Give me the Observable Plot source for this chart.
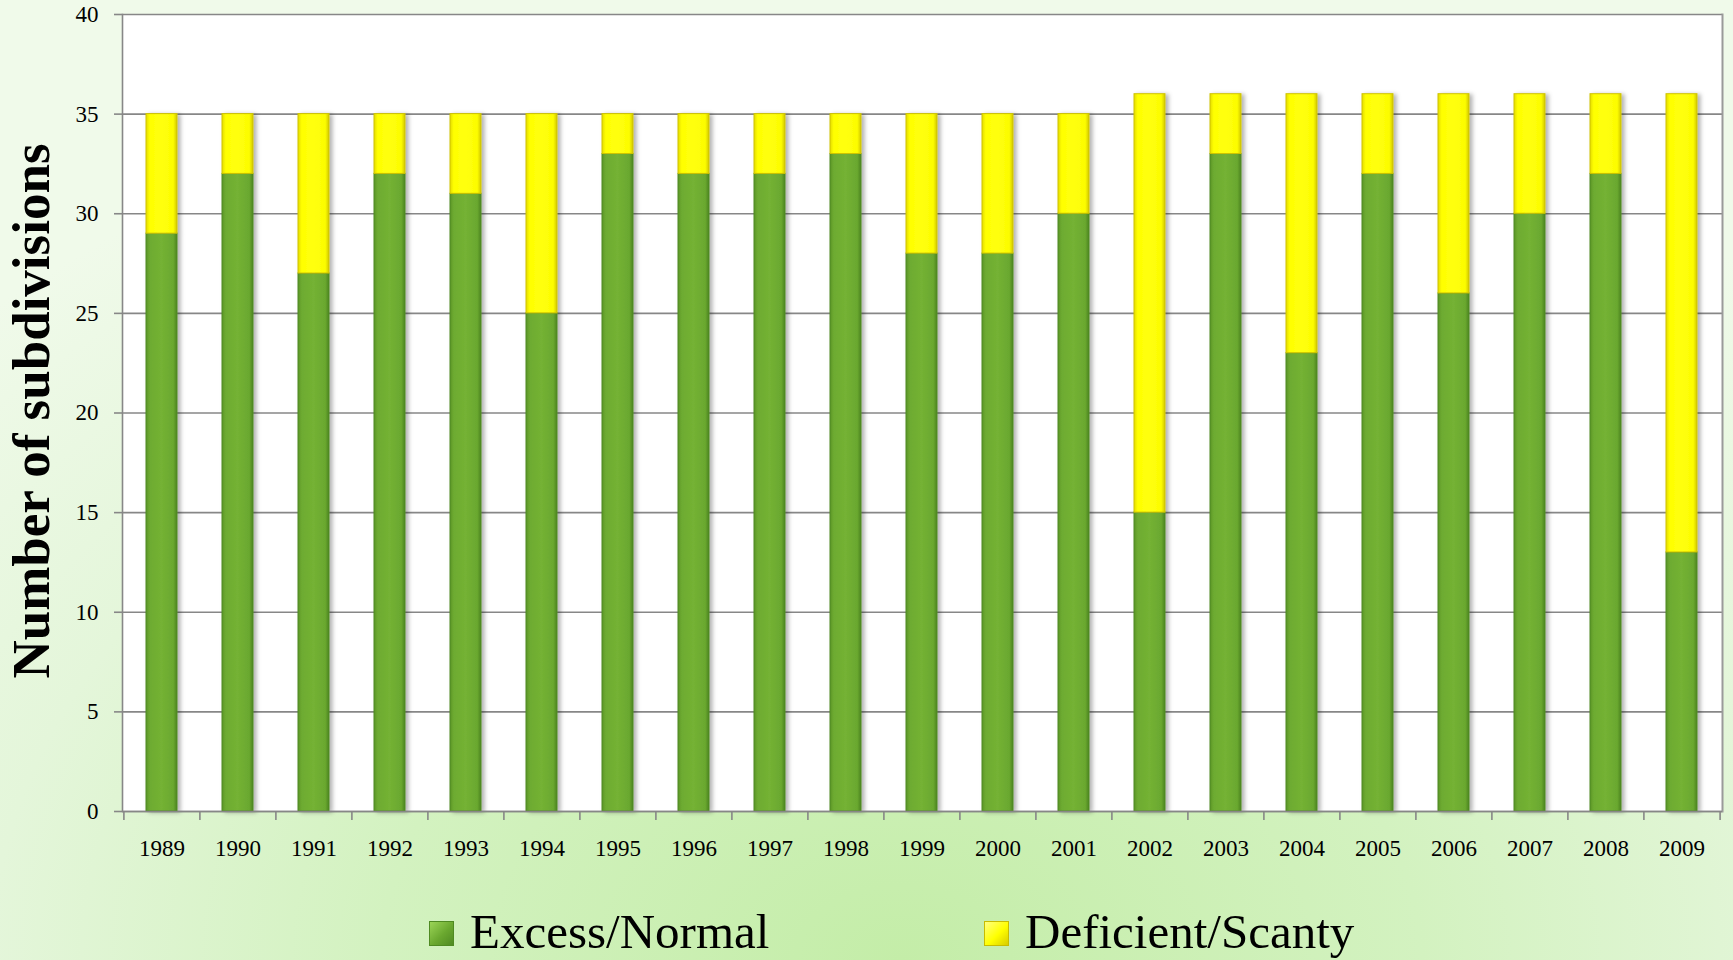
<!DOCTYPE html>
<html>
<head>
<meta charset="utf-8">
<script src="https://cdn.jsdelivr.net/npm/d3@7"></script>
<script src="https://cdn.jsdelivr.net/npm/@observablehq/plot@0.6"></script>
<style>
  html, body { margin: 0; padding: 0; }
  body {
    width: 1733px; height: 960px; overflow: hidden; position: relative;
    font-family: "Liberation Serif", "DejaVu Serif", serif;
    background: radial-gradient(ellipse 75% 95% at 52% 100%, #c4eda8 0%, #d3f2c0 40%, #e4f6da 70%, #f0faea 100%);
  }
  #chart { position: absolute; left: 0; top: 0; }
  #ytitle {
    position: absolute; left: 31px; top: 411px;
    transform: translate(-50%, -50%) rotate(-90deg);
    font-size: 53px; font-weight: bold; white-space: nowrap; color: #000;
  }
  .leg { position: absolute; top: 907px; font-size: 49px; line-height: 49px; color: #000; white-space: nowrap; }
  .sw { position: absolute; width: 25px; height: 25px; box-sizing: border-box; }
</style>
</head>
<body>
<div id="chart"></div>
<div id="ytitle">Number of subdivisions</div>
<div id="legend"></div>
<script>
const years = ["1989","1990","1991","1992","1993","1994","1995","1996","1997","1998","1999",
               "2000","2001","2002","2003","2004","2005","2006","2007","2008","2009"];
const excessNormal = [29,32,27,32,31,25,33,32,32,33,28,28,30,15,33,23,32,26,30,32,13];
const deficientScanty = [6,3,8,3,4,10,2,3,3,2,7,7,5,21,3,13,4,10,6,4,23];
const seriesNames = ["Excess/Normal","Deficient/Scanty"];
const yTicks = [0,5,10,15,20,25,30,35,40];

const rows = [];
years.forEach((y, i) => {
  rows.push({year: y, series: seriesNames[0], value: excessNormal[i]});
  rows.push({year: y, series: seriesNames[1], value: deficientScanty[i]});
});

const gray = "#878787";
const chart = Plot.plot({
  width: 1733, height: 880,
  marginLeft: 122, marginRight: 11, marginTop: 14, marginBottom: 69,
  style: {background: "transparent", fontFamily: "Liberation Serif, serif", color: "#000"},
  x: {domain: years, paddingInner: 0.59, paddingOuter: 0.295, label: null},
  y: {domain: [0, 40], label: null},
  color: {domain: seriesNames, range: ["url(#gGreen)", "url(#gYellow)"]},
  marks: [
    Plot.frame({fill: "white", stroke: null}),
    Plot.gridY(yTicks, {stroke: gray, strokeOpacity: 1, strokeWidth: 1.6}),
    Plot.frame({anchor: "right", stroke: "#9a9a9a", strokeWidth: 2}),
    Plot.barY(rows, Plot.stackY({x: "year", y: "value", fill: "series",
      stroke: d => d.series === seriesNames[0] ? "#4f8a22" : "#cfc300", strokeWidth: 1})),
    Plot.axisY(yTicks, {tickSize: 8, tickPadding: 16, fontSize: 23, label: null, stroke: gray, strokeWidth: 1.6}),
    Plot.frame({anchor: "left", stroke: gray, strokeWidth: 1.6}),
    Plot.ruleY([0], {stroke: gray, strokeWidth: 1.6}),
    Plot.axisX({tickSize: 9, dx: -38.1, text: null, stroke: gray, strokeWidth: 1.6}),
    Plot.axisX(["2009"], {tickSize: 9, dx: 38.1, text: null, stroke: gray, strokeWidth: 1.6}),
    Plot.axisX({tickSize: 0, tickPadding: 28, fontSize: 23, label: null})
  ]
});

// gradients & shadow definitions
const svg = d3.select(chart);
const defs = svg.insert("defs", ":first-child");
function hgrad(id, stops) {
  const g = defs.append("linearGradient").attr("id", id).attr("x1", "0").attr("x2", "1").attr("y1", "0").attr("y2", "0");
  stops.forEach(([o, c]) => g.append("stop").attr("offset", o).attr("stop-color", c));
}
hgrad("gGreen", [[0, "#5b9528"], [0.12, "#6dab30"], [0.5, "#74b234"], [0.88, "#6aa82f"], [1, "#4d8420"]]);
hgrad("gYellow", [[0, "#e4dc00"], [0.12, "#ffff00"], [0.5, "#ffff10"], [0.88, "#fcfc00"], [1, "#d2c800"]]);
const f = defs.append("filter").attr("id", "shadow").attr("x", "-30%").attr("y", "-5%").attr("width", "160%").attr("height", "110%");
f.append("feDropShadow").attr("dx", 3).attr("dy", 1).attr("stdDeviation", 2).attr("flood-color", "#000").attr("flood-opacity", 0.3);
svg.selectAll("g[aria-label='bar']").attr("filter", "url(#shadow)");

document.getElementById("chart").appendChild(chart);

// legend
const legend = document.getElementById("legend");
const legendItems = [
  {label: seriesNames[0], sx: 429, tx: 470, bg: "linear-gradient(135deg,#9bd457,#6aa82f 55%,#4f8a22)", bd: "#4f8a22"},
  {label: seriesNames[1], sx: 984, tx: 1025, bg: "linear-gradient(135deg,#ffff80,#ffff00 55%,#d8cc00)", bd: "#c8bc00"}
];
legendItems.forEach(it => {
  const sw = document.createElement("div");
  sw.className = "sw";
  sw.style.left = it.sx + "px"; sw.style.top = "921px";
  sw.style.background = it.bg; sw.style.border = "1px solid " + it.bd;
  legend.appendChild(sw);
  const t = document.createElement("div");
  t.className = "leg"; t.style.left = it.tx + "px"; t.textContent = it.label;
  legend.appendChild(t);
});
</script>
</body>
</html>
